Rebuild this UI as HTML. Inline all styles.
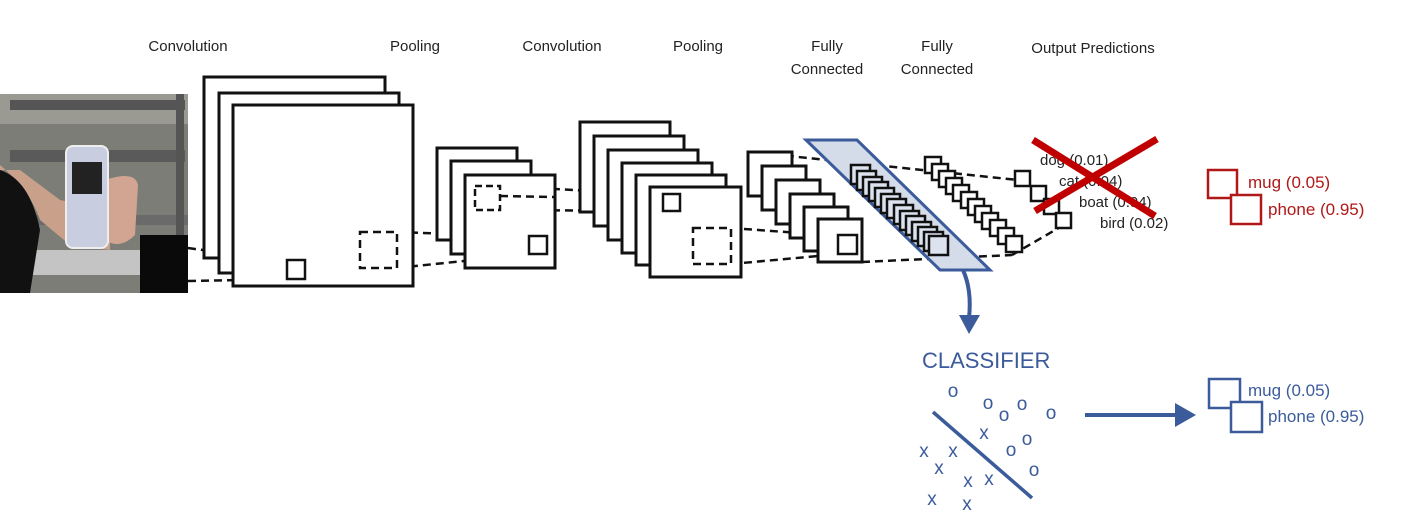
<!DOCTYPE html>
<html><head><meta charset="utf-8"><style>
html,body{margin:0;padding:0;background:#fff;}
svg{display:block;}
text{font-family:"Liberation Sans",Arial,sans-serif;}
</style></head><body>
<svg width="1407" height="532" viewBox="0 0 1407 532" xmlns="http://www.w3.org/2000/svg">
<!-- headers -->
<g font-size="15" fill="#222" text-anchor="middle">
<text x="188" y="51">Convolution</text>
<text x="415" y="51">Pooling</text>
<text x="562" y="51">Convolution</text>
<text x="698" y="51">Pooling</text>
<text x="827" y="51">Fully</text><text x="827" y="74">Connected</text>
<text x="937" y="51">Fully</text><text x="937" y="74">Connected</text>
<text x="1093" y="53">Output Predictions</text>
</g>
<!-- photo -->
<rect x="0" y="94" width="188" height="199" fill="#7d7d78"/>
<rect x="0" y="94" width="188" height="30" fill="#9a9a93"/>
<rect x="10" y="100" width="175" height="10" fill="#555"/>
<rect x="10" y="150" width="175" height="12" fill="#5a5a5a"/>
<rect x="0" y="215" width="188" height="10" fill="#6a6a6a"/>
<rect x="20" y="250" width="120" height="25" fill="#c4c4c4"/>
<rect x="176" y="94" width="8" height="199" fill="#555"/>
<path d="M0 165 Q30 190 40 220 L70 245 L110 250 L110 210 L60 200 L20 170 L0 170Z" fill="#c9a08a"/>
<path d="M0 170 Q30 180 40 230 L30 293 L0 293Z" fill="#111"/>
<path d="M105 180 Q135 170 138 185 L135 235 Q120 250 105 240Z" fill="#d2a592"/>
<rect x="66" y="146" width="42" height="102" rx="7" fill="#c8cde0" stroke="#eee" stroke-width="2"/>
<rect x="72" y="162" width="30" height="32" fill="#222"/>
<rect x="140" y="235" width="48" height="58" fill="#0a0a0a"/>
<!-- dashed connectors -->
<g stroke="#111" stroke-width="2.5" stroke-dasharray="8,5" fill="none">
<line x1="188" y1="248" x2="290" y2="262"/>
<line x1="188" y1="281" x2="290" y2="279"/>
<line x1="397" y1="232" x2="530" y2="237"/>
<line x1="397" y1="268" x2="530" y2="254"/>
<line x1="500" y1="186" x2="665" y2="195"/>
<line x1="500" y1="210" x2="665" y2="211"/>
<line x1="731" y1="228" x2="840" y2="236"/>
<line x1="731" y1="264" x2="840" y2="254"/>
<line x1="760" y1="153" x2="1018" y2="180"/>
<line x1="862" y1="262" x2="1012" y2="255"/>
<line x1="1012" y1="255" x2="1062" y2="226"/>
</g>
<!-- conv1 -->
<g stroke="#111" stroke-width="3" fill="#fff">
<rect x="204" y="77" width="181" height="181"/>
<rect x="219" y="93" width="180" height="180"/>
<rect x="233" y="105" width="180" height="181"/>
</g>
<g stroke="#111" stroke-width="2.5" fill="none">
<rect x="287" y="260" width="18" height="19"/>
<rect x="360" y="232" width="37" height="36" stroke-dasharray="8,5"/>
</g>
<!-- pool1 -->
<g stroke="#111" stroke-width="3" fill="#fff">
<rect x="437" y="148" width="80" height="92"/>
<rect x="451" y="161" width="80" height="93"/>
<rect x="465" y="175" width="90" height="93"/>
</g>
<g stroke="#111" stroke-width="2.5" fill="none">
<rect x="529" y="236" width="18" height="18"/>
<rect x="475" y="186" width="25" height="24" stroke-dasharray="7,4"/>
</g>
<line x1="500" y1="196" x2="555" y2="197" stroke="#111" stroke-width="2.5" stroke-dasharray="8,5"/>
<!-- conv2 -->
<g stroke="#111" stroke-width="3" fill="#fff">
<rect x="580" y="122" width="90" height="90"/>
<rect x="594" y="136" width="90" height="90"/>
<rect x="608" y="150" width="90" height="90"/>
<rect x="622" y="163" width="90" height="90"/>
<rect x="636" y="175" width="90" height="90"/>
<rect x="650" y="187" width="91" height="90"/>
</g>
<g stroke="#111" stroke-width="2.5" fill="none">
<rect x="663" y="194" width="17" height="17"/>
<rect x="693" y="228" width="38" height="36" stroke-dasharray="8,5"/>
</g>
<!-- fc1 frames -->
<g stroke="#111" stroke-width="3" fill="#fff">
<rect x="748" y="152" width="44" height="44"/>
<rect x="762" y="166" width="44" height="44"/>
<rect x="776" y="180" width="44" height="44"/>
<rect x="790" y="194" width="44" height="44"/>
<rect x="804" y="207" width="44" height="44"/>
<rect x="818" y="219" width="44" height="43"/>
</g>
<rect x="838" y="235" width="19" height="19" stroke="#111" stroke-width="2.5" fill="none"/>
<!-- blue parallelogram -->
<polygon points="806,140 857,140 990,270 940,270" fill="#d4dbe9" stroke="#3b5b9b" stroke-width="3"/>
<g stroke="#111" stroke-width="2.5" fill="#dde3ee">
<rect x="851" y="165" width="19" height="19"/><rect x="857" y="171" width="19" height="19"/>
<rect x="863" y="177" width="19" height="19"/><rect x="869" y="182" width="19" height="19"/>
<rect x="875" y="188" width="19" height="19"/><rect x="881" y="194" width="19" height="19"/>
<rect x="887" y="199" width="19" height="19"/><rect x="894" y="205" width="19" height="19"/>
<rect x="900" y="211" width="19" height="19"/><rect x="906" y="216" width="19" height="19"/>
<rect x="912" y="222" width="19" height="19"/><rect x="918" y="227" width="19" height="19"/>
<rect x="924" y="232" width="19" height="19"/><rect x="929" y="236" width="19" height="19"/>
</g>
<g stroke="#111" stroke-width="2.5" fill="#fff">
<rect x="925" y="157" width="16" height="16"/><rect x="932" y="164" width="16" height="16"/>
<rect x="939" y="171" width="16" height="16"/><rect x="946" y="178" width="16" height="16"/>
<rect x="953" y="185" width="16" height="16"/><rect x="961" y="192" width="16" height="16"/>
<rect x="968" y="199" width="16" height="16"/><rect x="975" y="206" width="16" height="16"/>
<rect x="982" y="213" width="16" height="16"/><rect x="990" y="220" width="16" height="16"/>
<rect x="998" y="228" width="16" height="16"/><rect x="1006" y="236" width="16" height="16"/>
</g>
<g stroke="#111" stroke-width="2.5" fill="#fff">
<rect x="1015" y="171" width="15" height="15"/>
<rect x="1031" y="186" width="15" height="15"/>
<rect x="1044" y="199" width="15" height="15"/>
<rect x="1056" y="213" width="15" height="15"/>
</g>
<g font-size="15" fill="#222">
<text x="1040" y="165">dog (0.01)</text>
<text x="1059" y="186">cat (0.04)</text>
<text x="1079" y="207">boat (0.94)</text>
<text x="1100" y="228">bird (0.02)</text>
</g>
<g stroke="#c00000" stroke-width="7" stroke-linecap="butt">
<line x1="1033" y1="140" x2="1155" y2="216"/>
<line x1="1157" y1="139" x2="1035" y2="211"/>
</g>
<!-- red output -->
<g stroke="#b01818" stroke-width="2.5" fill="#fff">
<rect x="1208" y="170" width="29" height="28"/>
<rect x="1231" y="195" width="30" height="29"/>
</g>
<g font-size="17" fill="#b01818">
<text x="1248" y="188">mug (0.05)</text>
<text x="1268" y="215">phone (0.95)</text>
</g>
<!-- blue arrow down -->
<path d="M963 270 Q972 290 969 318" stroke="#3b5b9b" stroke-width="4" fill="none"/>
<polygon points="959,315 980,315 969,334" fill="#3b5b9b"/>
<text x="922" y="368" font-size="22" fill="#3b5b9b">CLASSIFIER</text>
<g font-size="19" fill="#3b5b9b" text-anchor="middle">
<text x="953" y="397">o</text>
<text x="988" y="409">o</text><text x="1022" y="410">o</text><text x="1004" y="421">o</text><text x="1051" y="419">o</text>
<text x="984" y="439">x</text><text x="1027" y="445">o</text><text x="1011" y="456">o</text>
<text x="924" y="457">x</text><text x="953" y="457">x</text><text x="939" y="474">x</text>
<text x="1034" y="476">o</text>
<text x="968" y="487">x</text><text x="989" y="485">x</text>
<text x="932" y="505">x</text><text x="967" y="510">x</text>
</g>
<line x1="933" y1="412" x2="1032" y2="498" stroke="#3b5b9b" stroke-width="3.5"/>
<line x1="1085" y1="415" x2="1180" y2="415" stroke="#3b5b9b" stroke-width="4"/>
<polygon points="1175,403 1196,415 1175,427" fill="#3b5b9b"/>
<g stroke="#3b5b9b" stroke-width="2.5" fill="#fff">
<rect x="1209" y="379" width="31" height="29"/>
<rect x="1231" y="402" width="31" height="30"/>
</g>
<g font-size="17" fill="#3b5b9b">
<text x="1248" y="396">mug (0.05)</text>
<text x="1268" y="422">phone (0.95)</text>
</g>
</svg>
</body></html>
